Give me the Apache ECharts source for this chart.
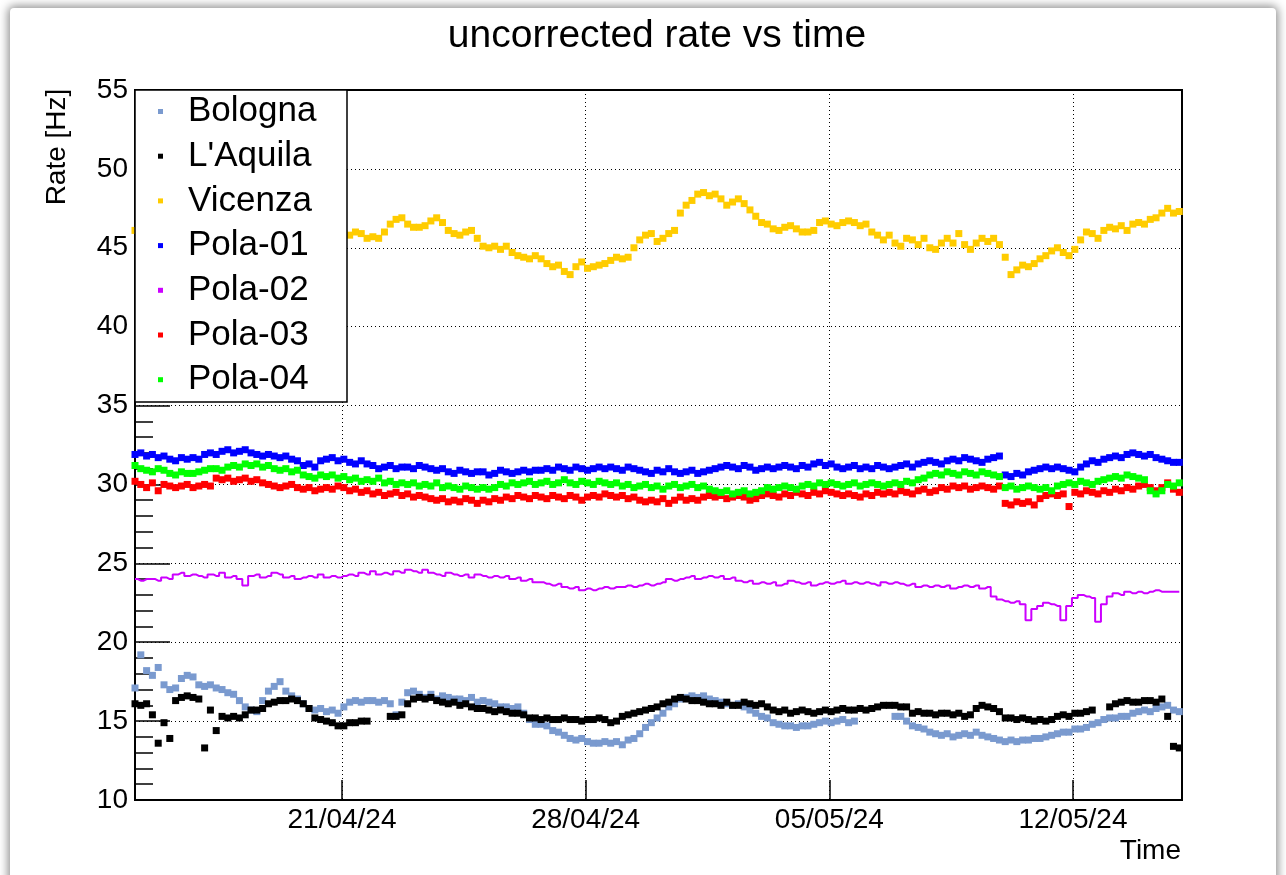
<!DOCTYPE html>
<html>
<head>
<meta charset="utf-8">
<title>uncorrected rate vs time</title>
<script src="https://cdn.jsdelivr.net/npm/echarts@6/dist/echarts.min.js"></script>
<style>
  html, body { margin: 0; padding: 0; background: #fff; width: 1286px; height: 875px; overflow: hidden; }
  #frame { position: absolute; left: 10px; top: 8px; width: 1266px; height: 900px; background: #fff;
           box-shadow: 0 0 10px 2px rgba(0,0,0,0.45); border-radius: 4px; }
  #chart { position: absolute; left: 0; top: 0; width: 1286px; height: 875px; }
</style>
</head>
<body>
<div id="frame"></div>
<div id="chart"></div>
<script>
// Sampling: one point every 4 hours from the first sample
const firstSample = Date.UTC(2024, 3, 15, 1, 16);
const sampleHours = 4;
const axisEnd = Date.UTC(2024, 4, 15, 3, 9);

const dateTicks = ['21/04/24', '28/04/24', '05/05/24', '12/05/24'];
const rateTicks = [10, 15, 20, 25, 30, 35, 40, 45, 50, 55];

const stations = ['Bologna', "L'Aquila", 'Vicenza', 'Pola-01', 'Pola-02', 'Pola-03', 'Pola-04'];

const bologna = [
  17.1, 19.2, 18.2, 17.9, 18.4, 17.3, 17.0, 17.1, 17.7, 17.9,
  17.8, 17.3, 17.2, 17.3, 17.1, 17.0, 16.8, 16.7, 16.3, 15.9,
  15.7, 15.6, 16.3, 16.9, 17.2, 17.5, 16.9, 16.6, 16.4, 16.1,
  15.8, 15.7, 15.8, 15.6, 15.7, 15.5, 15.9, 16.2, 16.3, 16.2,
  16.3, 16.3, 16.2, 16.3, 16.1, 15.4, 16.2, 16.8, 16.9, 16.7,
  16.5, 16.7, 16.4, 16.6, 16.5, 16.4, 16.4, 16.3, 16.5, 16.2,
  16.3, 16.2, 16.1, 15.9, 15.9, 15.8, 15.9, 15.5, 15.1, 14.8,
  14.8, 14.7, 14.4, 14.3, 14.1, 13.9, 13.8, 13.9, 13.7, 13.6,
  13.6, 13.7, 13.6, 13.7, 13.5, 13.8, 13.9, 14.2, 14.6, 14.9,
  15.2, 15.5, 15.9, 16.1, 16.4, 16.5, 16.6, 16.5, 16.6, 16.4,
  16.3, 16.2, 16.1, 16.0, 16.1, 15.9, 15.7, 15.5, 15.3, 15.2,
  14.9, 14.8, 14.7, 14.7, 14.6, 14.7, 14.7, 14.8, 14.9, 15.0,
  14.9, 15.0, 15.1, 14.9, 15.0, null, null, null, null, null,
  null, 15.3, 15.3, 15.0, 14.7, 14.6, 14.5, 14.3, 14.2, 14.1,
  14.2, 14.0, 14.1, 14.2, 14.1, 14.3, 14.1, 14.0, 13.9, 13.8,
  13.7, 13.8, 13.7, 13.8, 13.8, 13.9, 13.9, 14.0, 14.1, 14.2,
  14.3, 14.3, 14.5, 14.5, 14.6, 14.8, 14.9, 15.1, 15.2, 15.2,
  15.3, 15.3, 15.5, 15.6, 15.7, 15.6, 15.8, 15.9, 16.0, 15.7,
  15.6
];

const laquila = [
  16.1, 16.0, 16.1, 15.4, 13.6, 14.9, 13.9, 16.3, 16.5, 16.6,
  16.5, 16.4, 13.3, 15.7, 14.4, 15.3, 15.2, 15.3, 15.2, 15.4,
  15.7, 15.7, 15.8, 16.1, 16.2, 16.3, 16.3, 16.4, 16.3, 16.1,
  15.8, 15.2, 15.1, 15.0, 14.9, 14.7, 14.7, 14.9, 14.9, 15.0,
  15.0, null, null, null, 15.3, 15.3, 15.4, 16.1, 16.4, 16.5,
  16.4, 16.5, 16.3, 16.2, 16.1, 16.2, 16.0, 16.1, 15.9, 15.8,
  15.8, 15.7, 15.6, 15.7, 15.6, 15.5, 15.5, 15.4, 15.2, 15.2,
  15.1, 15.2, 15.1, 15.1, 15.2, 15.1, 15.1, 15.0, 15.1, 15.1,
  15.2, 15.1, 14.9, 15.0, 15.3, 15.4, 15.5, 15.6, 15.7, 15.8,
  15.9, 16.1, 16.2, 16.4, 16.5, 16.4, 16.3, 16.3, 16.2, 16.1,
  16.1, 16.0, 16.2, 16.0, 16.0, 16.2, 16.1, 16.0, 16.1, 15.9,
  15.7, 15.6, 15.7, 15.5, 15.6, 15.7, 15.6, 15.5, 15.6, 15.7,
  15.6, 15.7, 15.8, 15.7, 15.7, 15.8, 15.7, 15.8, 15.9, 16.0,
  16.0, 16.0, 15.9, 15.9, 15.5, 15.6, 15.5, 15.5, 15.4, 15.5,
  15.5, 15.4, 15.5, 15.3, 15.4, 15.8, 16.0, 15.9, 15.8, 15.6,
  15.2, 15.2, 15.1, 15.2, 15.1, 15.0, 15.1, 15.0, 15.1, 15.3,
  15.4, 15.3, 15.5, 15.5, 15.6, 15.7, null, null, 15.9, 16.1,
  16.2, 16.3, 16.2, 16.2, 16.3, 16.3, 16.2, 16.4, 15.3, 13.4,
  13.3
];

const vicenza = [
  46.1, 46.3, 46.0, 45.8, 46.2, 46.4, 46.1, 45.9, 46.3, 46.6,
  46.4, 46.2, 46.5, 46.8, 46.6, 46.3, 46.1, 46.4, 46.7, 46.5,
  46.2, 46.0, 46.3, 46.5, 46.2, 45.9, 46.1, 46.3, 46.0, 45.8,
  45.9, 46.2, 46.0, 45.7, 45.9, 46.1, 45.9, 45.8, 46.0, 45.9,
  45.6, 45.7, 45.6, 46.0, 46.5, 46.8, 46.9, 46.5, 46.3, 46.3,
  46.4, 46.7, 46.9, 46.6, 46.1, 45.9, 45.8, 46.0, 46.1, 45.6,
  45.1, 45.0, 45.1, 44.9, 45.1, 44.7, 44.5, 44.4, 44.3, 44.5,
  44.3, 44.0, 43.8, 43.9, 43.5, 43.3, 43.8, 44.1, 43.7, 43.8,
  43.9, 44.0, 44.2, 44.4, 44.3, 44.4, 45.0, 45.5, 45.8, 45.9,
  45.4, 45.6, 45.9, 46.1, 47.2, 47.7, 48.0, 48.4, 48.5, 48.3,
  48.4, 48.1, 47.7, 47.9, 48.1, 47.8, 47.4, 47.0, 46.6, 46.5,
  46.2, 46.1, 46.3, 46.4, 46.2, 46.0, 46.0, 46.1, 46.6, 46.7,
  46.5, 46.4, 46.6, 46.7, 46.6, 46.4, 46.5, 46.0, 45.8, 45.5,
  45.8, 45.3, 45.1, 45.6, 45.5, 45.2, 45.6, 45.0, 44.9, 45.3,
  45.6, 45.3, 45.9, 45.2, 44.9, 45.3, 45.6, 45.4, 45.6, 45.2,
  44.4, 43.3, 43.6, 43.9, 43.8, 44.0, 44.3, 44.5, 44.8, 45.0,
  44.7, 44.5, 44.9, 45.5, 46.0, 45.9, 45.6, 46.1, 46.3, 46.2,
  46.4, 46.1, 46.5, 46.6, 46.5, 46.8, 46.9, 47.2, 47.5, 47.2,
  47.3
];

const pola01 = [
  31.9, 32.0, 31.8, 31.9, 31.7, 31.8, 31.6, 31.5, 31.7, 31.6,
  31.7, 31.6, 31.9, 32.0, 31.9, 32.1, 32.2, 32.0, 32.1, 32.2,
  32.0, 31.9, 31.8, 31.9, 31.8, 31.7, 31.8, 31.6, 31.5, 31.2,
  31.3, 31.1, 31.5, 31.6, 31.7, 31.5, 31.6, 31.4, 31.3, 31.5,
  31.3, 31.2, 31.0, 31.1, 31.2, 31.0, 31.1, 31.1, 31.0, 31.2,
  31.1, 31.0, 30.9, 31.0, 30.8, 30.7, 30.9, 30.8, 30.7, 30.8,
  30.8, 30.6, 30.7, 30.9, 30.8, 30.7, 30.8, 30.9, 30.8, 30.9,
  30.9, 31.0, 30.9, 31.1, 31.0, 30.9, 31.1, 31.0, 30.9, 31.0,
  31.1, 31.0, 31.1, 31.0, 30.9, 31.1, 31.0, 30.9, 30.8, 30.7,
  30.9, 30.8, 31.0, 30.8, 30.7, 30.8, 30.9, 30.7, 30.8, 30.9,
  31.0, 31.1, 31.2, 31.1, 31.0, 31.2, 31.1, 30.9, 31.0, 31.1,
  31.0, 31.1, 31.2, 31.1, 31.0, 31.2, 31.1, 31.3, 31.4, 31.2,
  31.3, 31.1, 31.0, 31.1, 31.2, 31.0, 31.1, 31.0, 31.2, 31.1,
  31.0, 31.1, 31.2, 31.3, 31.1, 31.3, 31.4, 31.5, 31.4, 31.3,
  31.5, 31.6, 31.5, 31.7, 31.6, 31.5, 31.4, 31.6, 31.7, 31.8,
  30.6, 30.5, 30.7, 30.6, 30.8, 30.9, 31.0, 31.1, 31.0, 31.1,
  31.0, 30.9, 30.8, 31.1, 31.3, 31.5, 31.4, 31.6, 31.7, 31.8,
  31.7, 31.9, 32.0, 31.9, 31.8, 31.9, 31.7, 31.6, 31.5, 31.4,
  31.4
];

const pola02 = [
  24.0, 23.9, 24.0, 24.0, 23.9, 24.1, 24.0, 24.3, 24.4, 24.2,
  24.3, 24.2, 24.1, 24.3, 24.2, 24.4, 24.1, 24.2, 24.0, 23.6,
  24.2, 24.3, 24.1, 24.2, 24.4, 24.3, 24.1, 24.2, 24.0, 24.1,
  24.2, 24.1, 24.3, 24.1, 24.2, 24.1, 24.2, 24.3, 24.2, 24.4,
  24.3, 24.5, 24.3, 24.4, 24.3, 24.5, 24.4, 24.6, 24.5, 24.4,
  24.6, 24.4, 24.3, 24.2, 24.4, 24.3, 24.2, 24.3, 24.1, 24.3,
  24.2, 24.1, 24.2, 24.1, 24.2, 24.0, 24.1, 23.9, 24.0, 23.8,
  23.8, 23.7, 23.6, 23.7, 23.5, 23.4, 23.5, 23.3, 23.4, 23.3,
  23.4, 23.5, 23.4, 23.5, 23.5, 23.6, 23.5, 23.6, 23.7, 23.6,
  23.7, 23.8, 24.0, 23.9, 24.0, 24.1, 24.2, 24.0, 24.1, 24.2,
  24.1, 24.2, 24.0, 24.1, 23.9, 23.8, 23.9, 23.7, 23.8, 23.7,
  23.8, 23.6, 23.7, 23.9, 23.8, 23.7, 23.8, 23.6, 23.7, 23.8,
  23.7, 23.8, 23.9, 23.7, 23.8, 23.7, 23.8, 23.7, 23.6, 23.8,
  23.7, 23.8, 23.7, 23.6, 23.7, 23.5, 23.6, 23.5, 23.6, 23.5,
  23.6, 23.4, 23.5, 23.6, 23.5, 23.6, 23.4, 23.5, 22.9, 22.7,
  22.6, 22.5, 22.6, 22.4, 21.4, 22.1, 22.3, 22.5, 22.4, 22.3,
  21.4, 22.3, 22.8, 23.0, 22.9, 22.8, 21.3, 22.4, 22.9, 23.1,
  23.0, 23.2, 23.1, 23.2, 23.1, 23.2, 23.3, 23.2, 23.2, 23.2,
  23.2
];

const pola03 = [
  30.2, 30.0, 29.8, 30.1, 29.6, 30.0, 29.9, 29.8, 29.9, 30.0,
  29.8, 29.9, 30.0, 29.9, 30.4, 30.3, 30.4, 30.2, 30.3, 30.4,
  30.2, 30.3, 30.1, 30.0, 29.9, 29.8, 29.9, 30.0, 29.8, 29.7,
  29.8, 29.6, 29.7, 29.8, 29.7, 29.9, 29.8, 29.6, 29.7, 29.5,
  29.6, 29.4, 29.5, 29.3, 29.4, 29.5, 29.3, 29.4, 29.2, 29.3,
  29.2, 29.1, 29.0, 29.1, 28.9, 29.0, 28.9, 29.1, 29.0, 28.8,
  29.0, 28.9, 29.1, 29.0, 29.2, 29.1, 29.3, 29.2, 29.1, 29.3,
  29.2, 29.1, 29.3, 29.2, 29.1, 29.3, 29.2, 29.0, 29.2, 29.3,
  29.2, 29.4, 29.3, 29.2, 29.3, 29.1, 29.2, 29.0, 28.9, 29.0,
  28.9, 29.1, 28.8, 29.0, 29.2, 29.0, 29.1, 29.0, 29.2, 29.3,
  29.2, 29.3, 29.1, 29.2, 29.3, 29.2, 29.0, 29.1, 29.3, 29.4,
  29.3, 29.2, 29.4, 29.3, 29.5, 29.4, 29.3, 29.5, 29.4, 29.6,
  29.5, 29.4, 29.3, 29.4, 29.3, 29.2, 29.4, 29.3, 29.5, 29.4,
  29.5, 29.4, 29.6, 29.5, 29.4, 29.6, 29.7, 29.5, 29.6, 29.8,
  29.7, 29.9, 29.8, 29.9, 29.7, 29.8, 29.9, 29.8, 29.7, 29.9,
  28.8, 28.7, 28.9, 28.8, 28.9, 28.7, 29.1, 29.3, 29.4, 29.3,
  29.4, 28.6, 29.5, 29.4, 29.6, 29.5, 29.4, 29.6, 29.5, 29.7,
  29.6, 29.8, 29.7, 29.9, 30.0, 29.8, 29.6, 29.8, 30.1, 29.7,
  29.5
];

const pola04 = [
  31.2, 31.0, 30.9, 30.8, 31.0, 30.9, 30.7, 30.6, 30.8, 30.7,
  30.7, 30.8, 30.9, 31.0, 31.0, 30.9, 31.1, 31.2, 31.1, 31.3,
  31.2, 31.3, 31.1, 31.2, 31.0, 30.9, 31.0, 30.8, 30.9, 30.6,
  30.5, 30.4, 30.6, 30.5, 30.6, 30.4, 30.5, 30.3, 30.4, 30.2,
  30.3, 30.2, 30.4, 30.1, 30.2, 30.0, 30.1, 30.0, 30.1, 29.9,
  30.0, 29.9, 30.1, 29.8, 29.9, 29.8, 29.7, 29.9, 29.8, 29.7,
  29.8, 29.7, 29.8, 30.0, 29.9, 30.1, 30.0, 30.1, 30.2, 30.0,
  30.1, 30.2, 30.0, 30.1, 30.3, 30.1, 30.0, 30.2, 30.1, 30.0,
  30.2, 30.1, 30.0, 30.1, 29.9, 30.0, 29.8, 29.9, 30.0, 29.8,
  29.9, 29.7, 29.9, 30.0, 29.8, 29.9, 30.0, 29.8, 29.9, 29.7,
  29.6, 29.5, 29.6, 29.4, 29.5, 29.6, 29.4, 29.5, 29.6, 29.8,
  29.7, 29.8, 29.9, 29.8, 29.7, 29.9, 30.0, 29.9, 30.1, 30.0,
  30.1, 30.0, 29.9, 30.0, 30.1, 29.9, 30.0, 30.1, 30.0, 29.9,
  30.0, 30.1, 30.0, 30.2, 30.1, 30.3, 30.4, 30.6, 30.7, 30.6,
  30.8, 30.7, 30.6, 30.8, 30.7, 30.6, 30.8, 30.7, 30.6, 30.5,
  29.8, 29.9, 29.7, 29.8, 29.9, 29.8, 29.7, 29.8, 29.6, 29.9,
  30.0, 30.1, 30.0, 30.2, 30.1, 30.0, 30.2, 30.3, 30.4, 30.5,
  30.4, 30.6, 30.5, 30.4, 30.3, 29.6, 29.4, 29.6, 30.0, 29.9,
  30.1
];

const colors = {
  'Bologna': '#7a9acf',
  "L'Aquila": '#000000',
  'Vicenza': '#ffcc00',
  'Pola-01': '#0000ff',
  'Pola-02': '#cc00ff',
  'Pola-03': '#ff0000',
  'Pola-04': '#00ff00'
};

const FONT = '"Liberation Sans", Arial, Helvetica, sans-serif';
const sampleMs = sampleHours * 3600 * 1000;

function parseDay(s) {
  const [d, m, y] = s.split('/').map(Number);
  return Date.UTC(2000 + y, m - 1, d);
}
function formatDay(v) {
  const d = new Date(v);
  const p = n => String(n).padStart(2, '0');
  return p(d.getUTCDate()) + '/' + p(d.getUTCMonth() + 1) + '/' + p(d.getUTCFullYear() % 100);
}
function toPoints(vals) {
  return vals.map((v, i) => [firstSample + i * sampleMs, v == null ? '-' : v]);
}

const tickTimes = dateTicks.map(parseDay);

const valuesByStation = {
  'Bologna': bologna, "L'Aquila": laquila, 'Vicenza': vicenza,
  'Pola-01': pola01, 'Pola-02': pola02, 'Pola-03': pola03, 'Pola-04': pola04
};

const series = stations.map(name => {
  const base = { name, data: toPoints(valuesByStation[name]), silent: true,
                 itemStyle: { color: colors[name], opacity: 1 } };
  if (name === 'Pola-02') {
    return Object.assign(base, {
      type: 'line', symbol: 'none', step: 'middle',
      lineStyle: { color: colors[name], width: 2 }
    });
  }
  return Object.assign(base, { type: 'scatter', symbol: 'rect', symbolSize: 7 });
});

const dotted = { color: '#000', width: 1, type: [1, 3] };

const chart = echarts.init(document.getElementById('chart'), null, { renderer: 'canvas' });
chart.setOption({
  animation: false,
  textStyle: { fontFamily: FONT },
  grid: { left: 135, top: 90, width: 1047, height: 710, show: true, borderColor: '#000', borderWidth: 2, backgroundColor: 'transparent' },
  xAxis: {
    type: 'value',
    min: firstSample,
    max: axisEnd,
    axisLine: { show: true, lineStyle: { color: '#000', width: 2 } },
    axisTick: { show: true, inside: true, length: 20, lineStyle: { color: '#000', width: 1.5 }, customValues: tickTimes },
    axisLabel: { customValues: tickTimes, formatter: formatDay, fontSize: 28, color: '#000', margin: 6, fontFamily: FONT },
    splitLine: { show: true, lineStyle: dotted }
  },
  yAxis: {
    type: 'value',
    min: rateTicks[0],
    max: rateTicks[rateTicks.length - 1],
    interval: rateTicks[1] - rateTicks[0],
    axisLine: { show: true, lineStyle: { color: '#000', width: 2 } },
    axisTick: { show: true, inside: true, length: 35, lineStyle: { color: '#000', width: 1.5 } },
    minorTick: { show: true, splitNumber: 5, length: 18, lineStyle: { color: '#000', width: 1.5 } },
    axisLabel: { fontSize: 28, color: '#000', margin: 7, fontFamily: FONT },
    splitLine: { show: true, lineStyle: dotted }
  },
  legend: {
    orient: 'vertical',
    left: 135, top: 90, z: 6,
    padding: [4, 0, 0, 23],
    itemGap: 9.7,
    itemWidth: 45, itemHeight: 5,
    icon: 'path://M0,0H10V10H0Z',
    symbolKeepAspect: true,
    selectedMode: false,
    data: stations,
    textStyle: { fontSize: 35, lineHeight: 35, color: '#000', fontFamily: FONT }
  },
  graphic: [
    { type: 'rect', z: 5, shape: { x: 135, y: 90, width: 212, height: 312 },
      style: { fill: '#fff', stroke: '#000', lineWidth: 1.5 } },
    { type: 'text', x: 657, y: 36, z: 5,
      style: { text: 'uncorrected rate vs time', font: '39px ' + FONT, fill: '#000', align: 'center', verticalAlign: 'middle' } },
    { type: 'text', x: 57, y: 147, rotation: Math.PI / 2, z: 5,
      style: { text: 'Rate [Hz]', font: '28px ' + FONT, fill: '#000', align: 'center', verticalAlign: 'middle' } },
    { type: 'text', x: 1181, y: 851, z: 5,
      style: { text: 'Time', font: '28px ' + FONT, fill: '#000', align: 'right', verticalAlign: 'middle' } }
  ],
  series
});
</script>
</body>
</html>
